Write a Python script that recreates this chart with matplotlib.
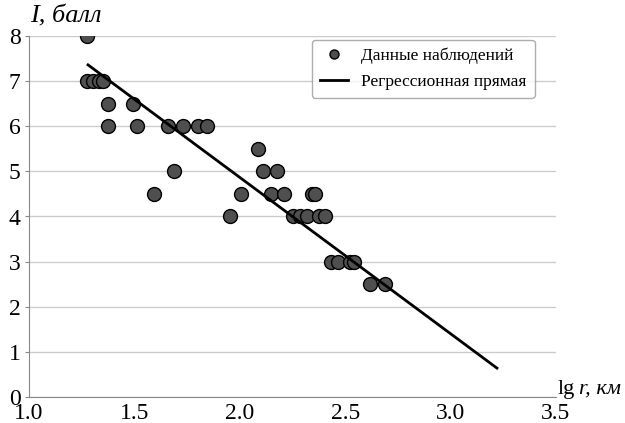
import matplotlib
matplotlib.use("Agg")
import matplotlib.pyplot as plt

plt.rcParams['font.family'] = ['Liberation Serif', 'DejaVu Serif']

# observations: lg r (km) vs intensity I (points)
lg_r = [1.275, 1.275, 1.304, 1.33, 1.351, 1.375, 1.493, 1.375, 1.514,
        1.66, 1.73, 1.80, 1.845, 1.594, 1.688, 2.086, 2.11, 2.176,
        2.005, 2.148, 2.21, 2.342, 2.357, 1.953, 2.252, 2.286, 2.319,
        2.376, 2.404, 2.433, 2.466, 2.523, 2.542, 2.618, 2.689]
intensity = [8, 7, 7, 7, 7, 6.5, 6.5, 6, 6,
             6, 6, 6, 6, 4.5, 5, 5.5, 5, 5,
             4.5, 4.5, 4.5, 4.5, 4.5, 4, 4, 4, 4,
             4, 4, 3, 3, 3, 3, 2.5, 2.5]

# regression line end points
line_x = [1.28, 3.22]
line_y = [7.36, 0.64]

fig = plt.figure(figsize=(6.25, 4.23), dpi=100)
ax = fig.add_axes([29/625, 1-397/423, (556-29)/625, (397-36)/423])

ax.plot(lg_r, intensity, 'o', markersize=10, markerfacecolor='#4f4f4f',
        markeredgecolor='black', markeredgewidth=1.0, zorder=3,
        label='Данные наблюдений')
ax.plot(line_x, line_y, '-', color='black', linewidth=2, zorder=4,
        label='Регрессионная прямая')

ax.set_xlim(1.0, 3.5)
ax.set_ylim(0, 8)
ax.set_xticks([1.0, 1.5, 2.0, 2.5, 3.0, 3.5])
ax.set_xticklabels(['1.0', '1.5', '2.0', '2.5', '3.0', '3.5'])
ax.set_yticks(range(0, 9))
ax.yaxis.grid(True, color='#cccccc', linewidth=1)
ax.set_axisbelow(True)
for s in ['top', 'right']:
    ax.spines[s].set_visible(False)
for s in ['left', 'bottom']:
    ax.spines[s].set_color('#888888')
ax.tick_params(axis='y', labelsize=17, color='#888888', length=3, pad=3)
ax.tick_params(axis='x', labelsize=17, length=0, pad=4)

fig.text(30/625, 1-22/423, 'I, балл', fontsize=19, style='italic')
fig.text(558/625, 1-394/423, 'lg', fontsize=16)
fig.text(579/625, 1-394/423, 'r, км', fontsize=16, style='italic')

leg = ax.legend(loc='upper left', bbox_to_anchor=(312/625, 1-40/423),
                bbox_transform=fig.transFigure, borderaxespad=0,
                fontsize=12.5, markerscale=0.65,
                handlelength=1.6, frameon=True, fancybox=True,
                edgecolor='#999999', borderpad=0.45, labelspacing=0.55)
leg.get_frame().set_linewidth(1)

fig.savefig('out.png', dpi=100)
